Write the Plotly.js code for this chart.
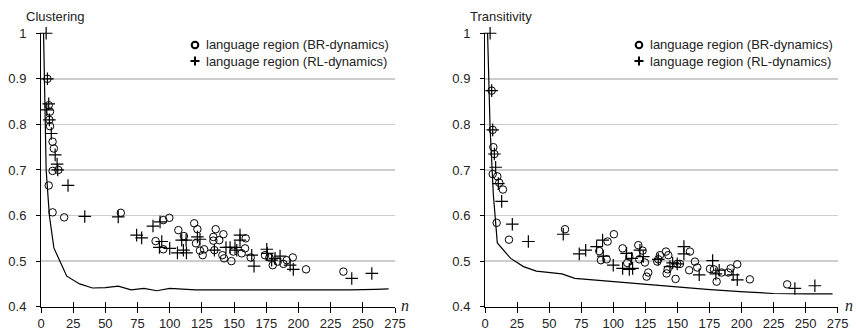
<!DOCTYPE html>
<html>
<head>
<meta charset="utf-8">
<script src="https://cdn.plot.ly/plotly-3.0.1.min.js"></script>
<style>html,body{margin:0;padding:0;background:#fff;}#chart{width:856px;height:331px;}</style>
</head>
<body>
<div id="chart"></div>
<script>
// ---------- DATA ----------
const xTicks = [0, 25, 50, 75, 100, 125, 150, 175, 200, 225, 250, 275];
const seriesNames = ["language region (BR-dynamics)", "language region (RL-dynamics)"];
const panelTitles = ["Clustering", "Transitivity"];

// Clustering – BR-dynamics (circles)
const clBR_n = [5, 6, 7, 6.5, 7, 9, 10, 9, 13.5, 6, 9, 18,
  62, 95, 99.7, 89, 95, 106.7, 111, 119, 121.5, 120.4, 123.5, 126.7, 125.6, 135.7, 133.9, 133.9, 138.5, 141.7,
  134.7, 140.9, 142.2, 147.9, 149.4, 159, 158.5, 155.9, 162.9, 174, 177.4, 180, 183.9, 188.3, 190.9, 195.6, 205.9, 234.9];
const clBR_v = [0.900, 0.842, 0.828, 0.810, 0.796, 0.762, 0.747, 0.698, 0.700, 0.666, 0.607, 0.596,
  0.606, 0.590, 0.595, 0.544, 0.526, 0.568, 0.555, 0.583, 0.570, 0.539, 0.523, 0.526, 0.513, 0.570, 0.553, 0.545, 0.546, 0.559,
  0.524, 0.513, 0.506, 0.500, 0.521, 0.550, 0.528, 0.517, 0.508, 0.513, 0.508, 0.491, 0.499, 0.494, 0.502, 0.508, 0.482, 0.477];

// Clustering – RL-dynamics (crosses)
const clRL_n = [4, 5, 6, 4.5, 6.5, 8, 11, 12.5, 13, 21, 34,
  60, 87, 92.5, 74.3, 78.2, 93.8, 92, 100, 109.3, 112.7, 106, 113, 110.6, 121.5, 123.5, 134.7, 143.7, 146.9, 150.7,
  152.1, 154.6, 154.6, 163.7, 165.5, 175.4, 175.8, 179.2, 181.8, 185.7, 193.5, 196, 241.4, 257];
const clRL_v = [1.000, 0.900, 0.845, 0.832, 0.810, 0.780, 0.733, 0.713, 0.700, 0.666, 0.598,
  0.597, 0.577, 0.586, 0.557, 0.551, 0.543, 0.530, 0.528, 0.546, 0.546, 0.518, 0.518, 0.524, 0.553, 0.548, 0.524, 0.530, 0.530, 0.530,
  0.524, 0.557, 0.546, 0.513, 0.489, 0.526, 0.517, 0.502, 0.506, 0.511, 0.491, 0.482, 0.462, 0.473];

// Clustering – baseline curve
const clBase_n = [2, 4, 6.5, 10, 20, 30, 40, 50, 60, 70, 80, 90, 100, 110, 120, 140, 160, 180, 200, 220, 240, 260, 270];
const clBase_v = [1.000, 0.700, 0.600, 0.529, 0.467, 0.450, 0.441, 0.442, 0.445, 0.437, 0.440, 0.435, 0.440, 0.438, 0.437, 0.437, 0.437, 0.436, 0.437, 0.437, 0.437, 0.438, 0.439];

// Transitivity – BR-dynamics (circles)
const trBR_n = [5.2, 6, 6.5, 7.3, 6, 9.6, 11.1, 14, 9.1, 18.7,
  62.4, 89.1, 95.6, 100.5, 90.4, 94.8, 107.3, 112.5, 110.9, 119.5, 122.9, 120.3, 124.7, 127.3, 126, 135.1, 134.3, 136.4, 141.1, 142.9,
  142.4, 141.6, 149.9, 152, 148.6, 159.8, 159.2, 163.7, 165.5, 175.4, 178.5, 180.6, 184.5, 189.7, 191.5, 196.7, 206.5, 235.6];
const trBR_v = [0.874, 0.788, 0.750, 0.735, 0.691, 0.686, 0.672, 0.657, 0.584, 0.547,
  0.570, 0.522, 0.543, 0.559, 0.502, 0.504, 0.528, 0.510, 0.496, 0.535, 0.523, 0.504, 0.497, 0.475, 0.466, 0.504, 0.499, 0.513, 0.521, 0.513,
  0.482, 0.473, 0.494, 0.494, 0.461, 0.521, 0.480, 0.499, 0.486, 0.483, 0.482, 0.455, 0.475, 0.475, 0.484, 0.493, 0.460, 0.449];

// Transitivity – RL-dynamics (crosses)
const trRL_n = [4, 5.2, 6, 7.3, 8.3, 10.4, 13, 21.3, 33.8,
  61, 73.5, 78.5, 87, 91.7, 92.2, 100, 110.4, 114.3, 107.3, 112.5, 115.1, 120.8, 123.4, 135.1, 146.3, 144.2, 149.9, 155.1, 155.1,
  167, 177.5, 180, 182.6, 193.5, 196.7, 241.6, 257.2];
const trRL_v = [1.000, 0.874, 0.788, 0.735, 0.706, 0.670, 0.631, 0.581, 0.543,
  0.559, 0.516, 0.524, 0.532, 0.546, 0.511, 0.491, 0.517, 0.506, 0.484, 0.482, 0.484, 0.524, 0.510, 0.504, 0.496, 0.488, 0.494, 0.532, 0.516,
  0.470, 0.501, 0.472, 0.480, 0.470, 0.459, 0.440, 0.446];

// Transitivity – baseline curve
const trBase_n = [2, 4, 6.5, 9.6, 20, 30, 40, 60, 70, 95, 121, 147, 173, 199, 225, 250, 271];
const trBase_v = [1.000, 0.790, 0.646, 0.540, 0.506, 0.488, 0.478, 0.472, 0.462, 0.456, 0.451, 0.445, 0.438, 0.433, 0.429, 0.428, 0.428];

// ---------- STYLE ----------
const W = 856, H = 331;
const FONT = "Liberation Sans, Arial, Helvetica, sans-serif";
const px = v => v / W, py = v => (H - v) / H;

const circleMarker = {symbol: "circle-open", size: 7.5, color: "#000", line: {color: "#000", width: 1}};
const crossMarker = {symbol: "cross-thin-open", size: 9, color: "#000", line: {color: "#000", width: 1.2}};

function panel(xa, ya, baseN, baseV, brN, brV, rlN, rlV) {
  return [
    {x: baseN, y: baseV, xaxis: xa, yaxis: ya, type: "scatter", mode: "lines",
     line: {color: "#000", width: 1.2}, cliponaxis: false, showlegend: false, hoverinfo: "skip"},
    {x: brN, y: brV, xaxis: xa, yaxis: ya, type: "scatter", mode: "markers", name: seriesNames[0],
     marker: circleMarker, cliponaxis: false, showlegend: false},
    {x: rlN, y: rlV, xaxis: xa, yaxis: ya, type: "scatter", mode: "markers", name: seriesNames[1],
     marker: crossMarker, cliponaxis: false, showlegend: false}
  ];
}

const traces = [
  ...panel("x", "y", clBase_n, clBase_v, clBR_n, clBR_v, clRL_n, clRL_v),
  ...panel("x2", "y2", trBase_n, trBase_v, trBR_n, trBR_v, trRL_n, trRL_v),
  {x: [null], y: [null], xaxis: "x3", yaxis: "y", showlegend: false, hoverinfo: "skip"},
  {x: [null], y: [null], xaxis: "x4", yaxis: "y2", showlegend: false, hoverinfo: "skip"}
];

const yDom = [py(306.7), py(33)];
const tickFont = {family: FONT, size: 13, color: "#222"};

function xAxis(dom, anchor) {
  return {domain: dom, anchor: anchor, range: [0, 275], tickvals: xTicks, ticktext: xTicks.map(String),
    ticks: "outside", ticklen: 5, tickwidth: 1, tickcolor: "#000", showline: true, linecolor: "#000", linewidth: 1,
    showgrid: false, zeroline: false, tickfont: tickFont, ticklabelstandoff: 0, fixedrange: true};
}
function xOver(over, anchor) {
  return {overlaying: over, anchor: anchor, range: [0, 275], tickvals: xTicks, ticks: "inside", ticklen: 5,
    tickwidth: 1, tickcolor: "#000", showticklabels: false, showline: false, showgrid: false, zeroline: false, fixedrange: true};
}
function yAxis(anchor) {
  return {domain: yDom, anchor: anchor, range: [0.4, 1.0005], dtick: 0.1, tick0: 0.4,
    ticks: "outside", ticklen: 4, tickwidth: 1, tickcolor: "#000", showline: true, linecolor: "#000", linewidth: 1,
    showgrid: true, gridcolor: "#cdcdcd", gridwidth: 1.5, zeroline: false, tickfont: tickFont, ticklabelstandoff: 7, fixedrange: true};
}

const annotations = [];
const shapes = [];
[[24, 41], [468, 485]].forEach(([titleX, axisX], i) => {
  annotations.push({text: panelTitles[i], xref: "paper", yref: "paper", x: px(titleX), y: py(16),
    xanchor: "left", yanchor: "middle", showarrow: false, font: {family: FONT, size: 13, color: "#222"}});
  annotations.push({text: "<i>n</i>", xref: "paper", yref: "paper", x: px(axisX + 364), y: py(305),
    xanchor: "center", yanchor: "middle", showarrow: false, font: {family: "Liberation Serif, DejaVu Serif, serif", size: 16, color: "#222"}});
  const mx = axisX + 154;
  [45, 61].forEach((ly, k) => {
    annotations.push({text: seriesNames[k], xref: "paper", yref: "paper", x: px(mx + 9), y: py(ly),
      xanchor: "left", yanchor: "middle", showarrow: false, font: {family: FONT, size: 13, color: "#222"}});
  });
  const base = {xref: "paper", yref: "paper", xsizemode: "pixel", ysizemode: "pixel", line: {color: "#000", width: 2}};
  shapes.push(Object.assign({type: "circle", xanchor: px(mx), yanchor: py(45), x0: -3.3, x1: 3.3, y0: -3.3, y1: 3.3}, base));
  shapes.push(Object.assign({type: "line", xanchor: px(mx), yanchor: py(61), x0: -4.5, x1: 4.5, y0: 0, y1: 0}, base));
  shapes.push(Object.assign({type: "line", xanchor: px(mx), yanchor: py(61), x0: 0, x1: 0, y0: -4.5, y1: 4.5}, base));
});

const layout = {
  width: W, height: H, margin: {l: 0, r: 0, t: 0, b: 0}, paper_bgcolor: "#fff", plot_bgcolor: "#fff",
  showlegend: false, font: {family: FONT, color: "#222"},
  xaxis: xAxis([px(41), px(395)], "y"),
  yaxis: yAxis("x"),
  xaxis2: xAxis([px(485), px(837.7)], "y2"),
  yaxis2: yAxis("x2"),
  xaxis3: xOver("x", "y"),
  xaxis4: xOver("x2", "y2"),
  annotations: annotations, shapes: shapes
};

Plotly.newPlot("chart", traces, layout, {staticPlot: true, displayModeBar: false});
</script>
</body>
</html>
